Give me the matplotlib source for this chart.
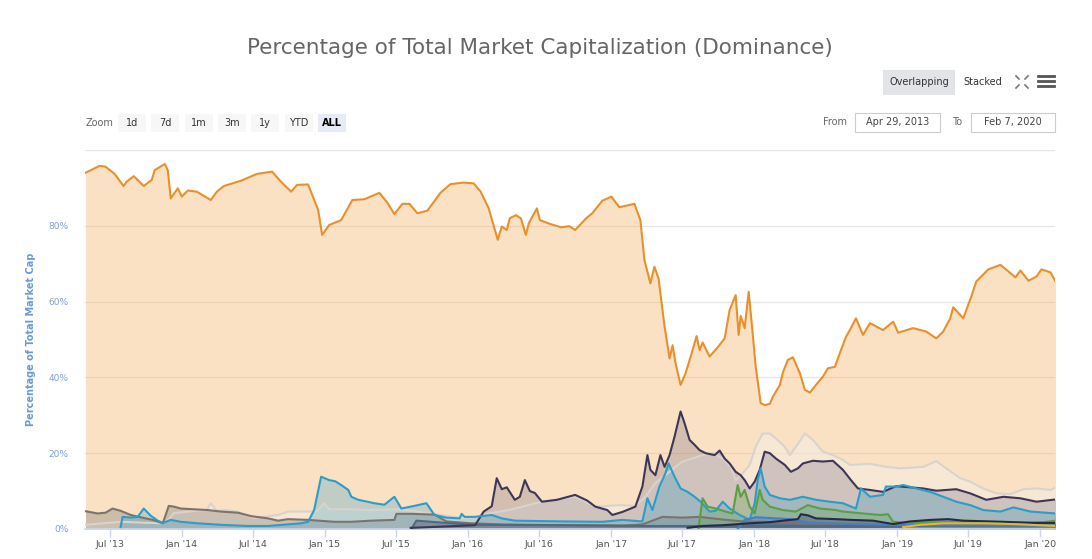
import datetime as dt
import matplotlib
matplotlib.use("Agg")
import matplotlib.pyplot as plt
from matplotlib.patches import Rectangle
from matplotlib.lines import Line2D

W, H = 1092, 559

# --- data: time as decimal year, value = % of total market cap -------------
btc_t = [2013.327, 2013.425, 2013.467, 2013.530, 2013.593, 2013.614, 2013.664, 2013.734,
         2013.790, 2013.811, 2013.881, 2013.902, 2013.923, 2013.972, 2014.000, 2014.042,
         2014.105, 2014.203, 2014.245, 2014.294, 2014.414, 2014.526, 2014.631, 2014.687,
         2014.764, 2014.806, 2014.883, 2014.953, 2014.981, 2015.030, 2015.114, 2015.192,
         2015.276, 2015.381, 2015.437, 2015.486, 2015.542, 2015.591, 2015.647, 2015.717,
         2015.808, 2015.878, 2015.970, 2016.040, 2016.089, 2016.145, 2016.208, 2016.236,
         2016.271, 2016.292, 2016.334, 2016.369, 2016.404, 2016.425, 2016.481, 2016.502,
         2016.572, 2016.650, 2016.706, 2016.748, 2016.825, 2016.867, 2016.937, 2017.000,
         2017.056, 2017.161, 2017.203, 2017.231, 2017.273, 2017.301, 2017.330, 2017.372,
         2017.407, 2017.428, 2017.449, 2017.484, 2017.519, 2017.568, 2017.596, 2017.617,
         2017.638, 2017.687, 2017.743, 2017.792, 2017.827, 2017.869, 2017.890, 2017.904,
         2017.932, 2017.960, 2017.988, 2018.009, 2018.044, 2018.072, 2018.108, 2018.129,
         2018.178, 2018.199, 2018.234, 2018.269, 2018.318, 2018.353, 2018.388, 2018.430,
         2018.479, 2018.514, 2018.563, 2018.605, 2018.640, 2018.675, 2018.710, 2018.759,
         2018.808, 2018.899, 2018.970, 2019.005, 2019.110, 2019.201, 2019.271, 2019.320,
         2019.369, 2019.390, 2019.460, 2019.516, 2019.551, 2019.635, 2019.720, 2019.825,
         2019.860, 2019.916, 2019.972, 2020.007, 2020.070, 2020.105]
btc_v = [94.0, 95.8, 95.6, 93.7, 90.5, 91.6, 93.1, 90.5,
         92.1, 94.7, 96.3, 94.7, 87.2, 89.9, 87.7, 89.3,
         89.0, 86.8, 89.0, 90.5, 91.9, 93.7, 94.3, 91.9,
         89.0, 90.8, 90.9, 84.2, 77.6, 80.2, 81.5, 86.8,
         87.0, 88.7, 86.1, 83.1, 85.8, 85.8, 83.3, 84.0,
         88.7, 91.0, 91.4, 91.2, 89.0, 84.6, 76.3, 79.8,
         78.9, 82.0, 82.8, 82.0, 77.6, 80.7, 84.6, 81.5,
         80.5, 79.6, 79.9, 78.9, 82.0, 83.3, 86.6, 87.7,
         84.9, 85.8, 81.5, 71.0, 64.8, 69.2, 66.1, 53.4,
         45.0, 48.5, 43.7, 38.0, 41.1, 47.2, 50.9, 47.2,
         49.2, 45.5, 47.9, 50.3, 57.8, 61.7, 51.2, 56.2,
         53.0, 62.6, 51.6, 42.8, 33.2, 32.7, 33.0, 34.9,
         38.0, 41.3, 44.6, 45.3, 41.1, 36.7, 36.0, 38.0,
         40.2, 42.4, 42.8, 47.2, 50.7, 53.0, 55.6, 51.2,
         54.3, 52.5, 54.7, 51.8, 53.0, 52.1, 50.3, 52.1,
         55.6, 58.5, 55.6, 61.3, 65.3, 68.5, 69.7, 66.4,
         68.2, 65.5, 66.6, 68.5, 67.7, 65.3]

oth_t = [2013.327, 2013.572, 2013.853, 2013.909, 2013.944, 2014.098, 2014.175, 2014.203,
         2014.245, 2014.308, 2014.386, 2014.505, 2014.673, 2014.743, 2014.883, 2014.946,
         2014.995, 2015.030, 2015.164, 2015.325, 2015.535, 2015.745, 2015.935, 2016.047,
         2016.145, 2016.285, 2016.516, 2016.748, 2016.888, 2017.056, 2017.168, 2017.238,
         2017.308, 2017.378, 2017.449, 2017.498, 2017.568, 2017.638, 2017.708, 2017.778,
         2017.834, 2017.869, 2017.918, 2017.967, 2018.009, 2018.058, 2018.108, 2018.150,
         2018.213, 2018.248, 2018.290, 2018.353, 2018.409, 2018.479, 2018.549, 2018.619,
         2018.668, 2018.808, 2018.920, 2019.019, 2019.180, 2019.271, 2019.341, 2019.439,
         2019.509, 2019.600, 2019.691, 2019.790, 2019.881, 2019.972, 2020.070, 2020.105]
oth_v = [1.1, 1.9, 1.5, 2.5, 4.2, 4.8, 5.0, 6.8,
         4.8, 5.0, 4.6, 2.9, 3.7, 4.6, 4.6, 4.8,
         6.8, 5.2, 5.2, 5.0, 5.2, 4.1, 3.0, 3.0,
         4.1, 5.0, 7.2, 8.5, 5.9, 6.3, 6.1, 8.5,
         12.1, 14.2, 16.4, 17.8, 18.6, 19.5, 20.0, 18.6,
         16.4, 12.9, 14.7, 16.9, 21.7, 25.2, 25.2, 23.9,
         21.7, 19.5, 21.7, 25.2, 23.5, 20.4, 19.5, 18.2,
         16.9, 17.2, 16.4, 16.0, 16.4, 17.9, 16.0, 13.4,
         12.5, 10.7, 9.4, 9.2, 10.5, 10.7, 10.3, 11.0]

eth_t = [2015.600, 2016.050, 2016.110, 2016.166, 2016.201, 2016.236, 2016.271, 2016.327,
         2016.362, 2016.397, 2016.432, 2016.467, 2016.516, 2016.621, 2016.748, 2016.832,
         2016.888, 2016.972, 2017.007, 2017.077, 2017.168, 2017.217, 2017.252, 2017.273,
         2017.308, 2017.343, 2017.372, 2017.407, 2017.442, 2017.484, 2017.512, 2017.547,
         2017.582, 2017.617, 2017.659, 2017.722, 2017.757, 2017.792, 2017.827, 2017.869,
         2017.904, 2017.932, 2017.967, 2018.002, 2018.037, 2018.072, 2018.108, 2018.150,
         2018.213, 2018.255, 2018.304, 2018.339, 2018.409, 2018.479, 2018.549, 2018.619,
         2018.675, 2018.724, 2018.808, 2018.899, 2018.991, 2019.089, 2019.180, 2019.271,
         2019.411, 2019.509, 2019.621, 2019.741, 2019.860, 2019.972, 2020.105]
eth_v = [0.3, 1.0, 4.6, 6.0, 13.4, 10.5, 11.0, 7.7,
         8.5, 12.9, 10.0, 9.5, 7.2, 7.7, 9.0, 7.5,
         5.9, 5.0, 3.7, 4.5, 5.9, 11.2, 19.5, 15.6,
         14.2, 19.5, 16.4, 19.5, 24.4, 31.0, 27.9, 23.5,
         22.2, 20.8, 20.0, 19.5, 20.7, 18.6, 17.3, 15.1,
         14.2, 12.9, 10.7, 12.5, 15.6, 20.4, 20.0, 18.6,
         16.9, 15.1, 16.0, 17.3, 18.0, 17.8, 18.0, 15.6,
         12.9, 10.7, 10.3, 9.8, 11.3, 11.0, 10.7, 10.1,
         10.5, 9.4, 7.7, 8.5, 8.1, 7.2, 7.8]

xrp_t = [2013.572, 2013.586, 2013.643, 2013.692, 2013.734, 2013.783, 2013.832, 2013.867,
         2013.923, 2013.993, 2014.112, 2014.273, 2014.463, 2014.603, 2014.834, 2014.883,
         2014.925, 2014.974, 2015.030, 2015.072, 2015.114, 2015.164, 2015.185, 2015.234,
         2015.346, 2015.416, 2015.486, 2015.535, 2015.626, 2015.710, 2015.766, 2015.850,
         2015.942, 2015.956, 2015.977, 2016.047, 2016.166, 2016.236, 2016.327, 2016.657,
         2016.937, 2017.077, 2017.217, 2017.252, 2017.287, 2017.336, 2017.378, 2017.400,
         2017.442, 2017.484, 2017.533, 2017.582, 2017.624, 2017.687, 2017.729, 2017.778,
         2017.827, 2017.897, 2017.967, 2018.002, 2018.023, 2018.044, 2018.072, 2018.108,
         2018.178, 2018.248, 2018.339, 2018.430, 2018.528, 2018.619, 2018.710, 2018.745,
         2018.808, 2018.899, 2018.920, 2018.991, 2019.040, 2019.131, 2019.229, 2019.320,
         2019.411, 2019.509, 2019.600, 2019.720, 2019.811, 2019.930, 2020.105]
xrp_v = [0.5, 3.2, 3.0, 3.2, 5.4, 3.5, 2.2, 1.6,
         2.4, 1.9, 1.5, 1.1, 0.8, 0.8, 1.5, 1.9,
         5.0, 13.8, 12.9, 12.6, 11.6, 10.3, 8.5, 7.7,
         6.8, 6.4, 8.5, 5.4, 6.1, 6.8, 3.7, 3.0,
         2.8, 4.0, 3.2, 3.2, 3.7, 2.8, 2.2, 2.0,
         1.9, 2.4, 2.0, 8.1, 5.0, 11.2, 14.7, 17.3,
         13.8, 10.7, 9.8, 8.5, 7.2, 4.6, 4.8, 7.2,
         5.4, 3.7, 2.4, 6.8, 12.9, 16.0, 11.2, 9.0,
         8.1, 7.7, 8.5, 7.7, 7.2, 6.8, 5.4, 10.7,
         8.5, 9.0, 11.2, 11.2, 11.6, 10.7, 9.8, 8.5,
         7.2, 6.3, 5.0, 4.6, 5.7, 4.6, 4.1]

ltc_t = [2013.327, 2013.411, 2013.467, 2013.516, 2013.572, 2013.643, 2013.699, 2013.797,
         2013.867, 2013.909, 2013.944, 2013.993, 2014.084, 2014.182, 2014.273, 2014.393,
         2014.484, 2014.603, 2014.673, 2014.743, 2014.883, 2015.065, 2015.185, 2015.325,
         2015.486, 2015.500, 2015.605, 2015.766, 2015.850, 2016.026, 2016.236, 2016.657,
         2017.077, 2017.217, 2017.357, 2017.498, 2017.617, 2017.778, 2017.918, 2018.129,
         2018.339, 2018.619, 2019.040, 2019.460, 2019.741, 2020.105]
ltc_v = [4.7, 4.1, 4.3, 5.4, 4.8, 3.7, 3.2, 2.4,
         1.5, 6.1, 5.9, 5.4, 5.2, 5.0, 4.6, 4.3,
         3.4, 2.8, 2.2, 2.6, 2.4, 1.9, 1.9, 2.2,
         2.4, 4.0, 4.0, 3.8, 2.0, 1.5, 1.2, 1.0,
         0.9, 1.2, 3.2, 3.0, 3.2, 2.5, 2.0, 1.8,
         1.5, 1.2, 1.0, 1.2, 1.0, 0.8]

dash_t = [2015.605, 2015.640, 2015.815, 2016.047, 2016.657, 2017.217, 2017.988, 2019.040, 2020.105]
dash_v = [0.0, 2.2, 1.7, 1.1, 1.0, 0.8, 0.8, 0.8, 0.7]

bch_t = [2017.610, 2017.617, 2017.638, 2017.673, 2017.729, 2017.799, 2017.848, 2017.883,
         2017.904, 2017.932, 2017.967, 2018.002, 2018.037, 2018.058, 2018.108, 2018.199,
         2018.290, 2018.374, 2018.458, 2018.570, 2018.619, 2018.759, 2018.878, 2018.934,
         2018.970, 2019.089, 2019.390, 2019.741, 2020.021, 2020.105]
bch_v = [0.0, 2.4, 8.1, 5.9, 5.4, 4.6, 4.1, 11.6,
         8.5, 10.3, 5.9, 4.1, 10.3, 7.7, 5.9, 5.0,
         4.6, 6.3, 5.4, 5.0, 4.6, 4.1, 3.7, 3.9,
         1.9, 1.6, 1.8, 1.6, 1.8, 2.2]

eos_t = [2017.533, 2017.638, 2017.778, 2017.967, 2018.108, 2018.248, 2018.304, 2018.325,
         2018.374, 2018.430, 2018.570, 2018.675, 2018.829, 2018.970, 2019.089, 2019.229,
         2019.355, 2019.460, 2019.741, 2019.951, 2020.105]
eos_v = [0.3, 0.8, 1.0, 1.5, 1.8, 2.4, 2.6, 3.9,
         3.6, 2.8, 2.6, 2.4, 2.2, 1.3, 2.0, 2.4,
         2.6, 2.2, 1.9, 1.6, 1.6]

ada_t = [2017.883, 2017.932, 2018.009, 2018.108, 2018.248, 2018.388, 2018.675, 2019.040, 2020.105]
ada_v = [0.0, 2.4, 3.1, 2.9, 2.6, 1.7, 1.3, 1.0, 0.8]

bnb_t = [2019.040, 2019.159, 2019.320, 2019.600, 2019.811, 2020.105]
bnb_v = [0.5, 1.1, 1.5, 1.5, 1.3, 0.8]

# (times, values, line colour, fill colour, fill alpha) in drawing order
series = [
    (btc_t, btc_v, "#E8902A", "#F7B46A", 0.40),
    (oth_t, oth_v, "#D9D3CD", "#F4F0EC", 0.45),
    (eth_t, eth_v, "#3D3657", "#786E84", 0.30),
    (ltc_t, ltc_v, "#7C736C", "#8A8580", 0.40),
    (xrp_t, xrp_v, "#2A9DC8", "#3C9FC8", 0.30),
    (dash_t, dash_v, "#51687F", "#5B6B7D", 0.50),
    (bch_t, bch_v, "#5C9E44", "#6AA84F", 0.30),
    (ada_t, ada_v, "#4A7CC4", "#4C7FC4", 0.45),
    (eos_t, eos_v, "#262A48", "#3A3D5C", 0.35),
    (bnb_t, bnb_v, "#E2B92A", "#E6C229", 0.50),
]

x_ticks = ["2013-07", "2014-01", "2014-07", "2015-01", "2015-07", "2016-01", "2016-07",
           "2017-01", "2017-07", "2018-01", "2018-07", "2019-01", "2019-07", "2020-01"]
y_ticks = [0, 20, 40, 60, 80]
zoom_buttons = ["1d", "7d", "1m", "3m", "1y", "YTD", "ALL"]
title = "Percentage of Total Market Capitalization (Dominance)"


def to_dates(years):
    out = []
    for y in years:
        yr = int(y)
        a = dt.datetime(yr, 1, 1)
        b = dt.datetime(yr + 1, 1, 1)
        out.append(a + (b - a) * (y - yr))
    return out


def fx(x):
    return x / W


def fy(y):
    return 1 - y / H


fig = plt.figure(figsize=(W / 100, H / 100), dpi=100)
ax = fig.add_axes([fx(85), fy(529), fx(1055) - fx(85), fy(150) - fy(529)])

for t, v, lc, fc, a in series:
    assert len(t) == len(v)
    ax.fill_between(to_dates(t), 0, v, color=fc, alpha=a, lw=0, zorder=1)

line_order = [1, 3, 5, 2, 4, 6, 7, 8, 9, 0]
for i in line_order:
    t, v, lc, fc, a = series[i]
    ax.plot(to_dates(t), v, color=lc, lw=1.5, zorder=3, solid_joinstyle="round")

ax.set_xlim(dt.datetime(2013, 4, 29), dt.datetime(2020, 2, 7))
ax.set_ylim(0, 100)

for g in [20, 40, 60, 80, 100]:
    ax.axhline(g, color="#E6E6E6", lw=0.9, zorder=0)

ax.set_yticks(y_ticks)
ax.set_yticklabels([f"{v}%" for v in y_ticks], color="#7F9FCF", fontsize=6.5)
ax.tick_params(axis="y", length=0, pad=12)

tick_dates = [dt.datetime.strptime(s, "%Y-%m") for s in x_ticks]
ax.set_xticks(tick_dates)
ax.set_xticklabels([d.strftime("%b '%y") for d in tick_dates], color="#555555", fontsize=6.8)
ax.tick_params(axis="x", length=6, width=1, color="#CCD6EB", pad=2)

for s in ["top", "left", "right"]:
    ax.spines[s].set_visible(False)
ax.spines["bottom"].set_color("#CCD6EB")
ax.spines["bottom"].set_linewidth(1.2)

ax.set_ylabel("Percentage of Total Market Cap", color="#6A9AD4", fontsize=7, fontweight="bold")
ax.yaxis.set_label_coords(-0.05, 0.5)

# --- title and chart controls ---------------------------------------------
fig.text(fx(540), fy(48), title, ha="center", va="center", fontsize=15.5, color="#666666")

fig.patches.append(Rectangle((fx(883), fy(95)), fx(72), 25 / H, transform=fig.transFigure,
                             facecolor="#E3E4E8", edgecolor="none"))
fig.text(fx(919), fy(82), "Overlapping", ha="center", va="center", fontsize=7, color="#333333")
fig.text(fx(983), fy(82), "Stacked", ha="center", va="center", fontsize=7, color="#333333")

# fullscreen icon
for (x0, y0, dx, dy) in [(1016, 76, 1, 1), (1028, 76, -1, 1), (1016, 88, 1, -1), (1028, 88, -1, -1)]:
    fig.lines.append(Line2D([fx(x0), fx(x0 + 3 * dx)], [fy(y0), fy(y0 + 3 * dy)],
                            transform=fig.transFigure, color="#777777", lw=1.2))
# menu icon
for yy in [76, 81, 86]:
    fig.lines.append(Line2D([fx(1038), fx(1054)], [fy(yy), fy(yy)], transform=fig.transFigure,
                            color="#555555", lw=2.0))

fig.text(fx(100), fy(123), "Zoom", ha="center", va="center", fontsize=7, color="#666666")
for i, lab in enumerate(zoom_buttons):
    cx = 132 + i * 33.3
    sel = lab == "ALL"
    fig.patches.append(Rectangle((fx(cx - 14), fy(132)), fx(28), 18 / H, transform=fig.transFigure,
                                 facecolor="#E6EBF5" if sel else "#F7F7F7", edgecolor="none"))
    fig.text(fx(cx), fy(123), lab, ha="center", va="center", fontsize=7,
             color="#000000" if sel else "#333333", fontweight="bold" if sel else "normal")

fig.text(fx(835), fy(122), "From", ha="center", va="center", fontsize=7, color="#666666")
fig.text(fx(957), fy(122), "To", ha="center", va="center", fontsize=7, color="#666666")
for (x0, x1, lab) in [(855, 940, "Apr 29, 2013"), (971, 1055, "Feb 7, 2020")]:
    fig.patches.append(Rectangle((fx(x0), fy(132)), fx(x1 - x0), 19 / H, transform=fig.transFigure,
                                 facecolor="white", edgecolor="#CCCCCC", lw=0.8))
    fig.text(fx((x0 + x1) / 2), fy(122), lab, ha="center", va="center", fontsize=7, color="#444444")

fig.savefig("out.png", dpi=100)
